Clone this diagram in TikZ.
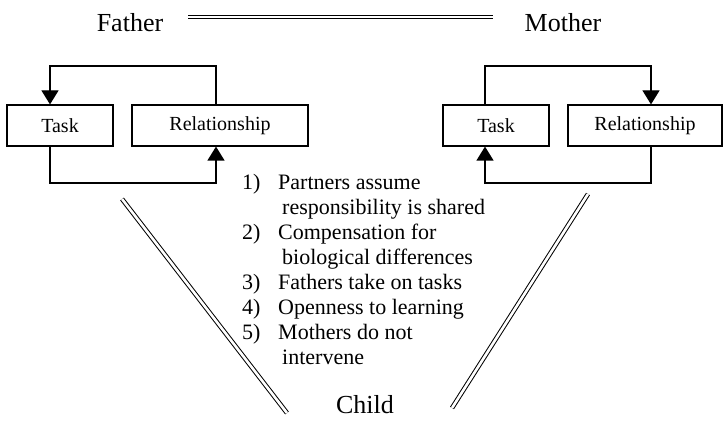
\documentclass[tikz,border=0pt]{standalone}
\usepackage{fontspec}
\setmainfont{Liberation Serif}
\usetikzlibrary{arrows.meta}
\begin{document}
\begin{tikzpicture}[x=1pt,y=-1pt,
  box/.style={draw,line width=1.2pt,minimum height=41pt,inner sep=0pt,font=\fontsize{20}{24}\selectfont},
  conn/.style={line width=1.2pt,-{Triangle[length=14pt,width=17pt]}},
  dbl/.style={double,double distance=2.6pt,line width=1pt},
  big/.style={font=\fontsize{26}{30}\selectfont,inner sep=0pt}]
\useasboundingbox (0,0) rectangle (725,422);
% titles
\node[big] (father) at (130,23) {Father};
\node[big] (mother) at (563,23) {Mother};
\node[big] (child) at (365,405) {Child};
\coordinate (tl) at (188,17);
\coordinate (tr) at (493,17);
\draw[dbl] (tl) -- (tr);
% left loop
\node[box,minimum width=106pt] (taskL) at (60,125.5) {Task};
\node[box,minimum width=176pt] (relL) at (220,125.5) {Relationship};
\coordinate (ltop) at (50,66);
\coordinate (lbot) at (216,183);
\draw[conn] ([xshift=-4pt]relL.north) |- (ltop) -- ([xshift=-10pt]taskL.north);
\draw[conn] ([xshift=-10pt]taskL.south) |- (lbot) -- ([xshift=-4pt]relL.south);
% right loop
\node[box,minimum width=106pt] (taskR) at (496,125.5) {Task};
\node[box,minimum width=154pt] (relR) at (645,125.5) {Relationship};
\coordinate (rtop) at (651,66);
\coordinate (rbot) at (485,183);
\draw[conn] ([xshift=-11pt]taskR.north) |- (rtop) -- ([xshift=6pt]relR.north);
\draw[conn] ([xshift=6pt]relR.south) |- (rbot) -- ([xshift=-11pt]taskR.south);
% diagonals
\coordinate (dl1) at (122,199);
\coordinate (dl2) at (287,413);
\coordinate (dr1) at (588,194);
\coordinate (dr2) at (452,408);
\draw[dbl] (dl1) -- (dl2);
\draw[dbl] (dr1) -- (dr2);
% list
\node[anchor=north west,inner sep=0pt,font=\fontsize{22}{25}\selectfont] (list) at (242,171.5) {%
\begin{tabular}{@{}p{36pt}@{}l@{}}
1) & Partners assume\\
   & \hspace{4pt}responsibility is shared\\
2) & Compensation for\\
   & \hspace{4pt}biological differences\\
3) & Fathers take on tasks\\
4) & Openness to learning\\
5) & Mothers do not\\
   & \hspace{4pt}intervene
\end{tabular}};
\end{tikzpicture}
\end{document}
